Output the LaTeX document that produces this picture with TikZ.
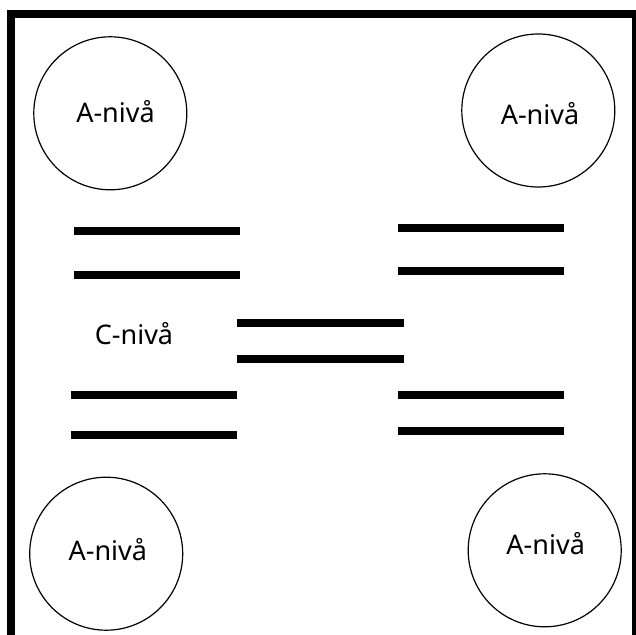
\documentclass[tikz,border=0pt]{standalone}
\usepackage{fontspec}
\setmainfont{Noto Sans}
\tikzset{
  frame/.style={line width=8pt, line join=miter},
  bar/.style={line width=8pt},
  circ/.style={circle, draw, line width=1.2pt, minimum size=153pt, inner sep=0pt},
  lbl/.style={anchor=base, inner sep=0pt, font=\fontsize{27}{32}\selectfont}
}
\begin{document}
\begin{tikzpicture}[x=1pt, y=-1pt]
\useasboundingbox (0,0) rectangle (636,634);
\clip (0,0) rectangle (636,634);
\fill[white] (0,0) rectangle (636,634);
\draw[frame] (11.3,660) -- (11.3,13.7) -- (636,13.7) -- (636,660);
% circles
\node[circ] (c1) at (110.3,113.3) {};
\node[circ] (c2) at (538.3,110.5) {};
\node[circ] (c3) at (106.2,553.7) {};
\node[circ] (c4) at (544.7,550.3) {};
\node[lbl] (t1) at (115.5,122.2) {A-nivå};
\node[lbl] (t2) at (540,124.7) {A-nivå};
\node[lbl] (t3) at (107.8,560.3) {A-nivå};
\node[lbl] (t4) at (545.7,554.3) {A-nivå};
\node[lbl] (t5) at (134,344.7) {C-nivå};
% bars
\draw[bar] (74,231) -- (240,231);
\draw[bar] (74,274.7) -- (240,274.7);
\draw[bar] (237,323) -- (404,323);
\draw[bar] (237,359) -- (404,359);
\draw[bar] (398,228) -- (564,228);
\draw[bar] (398,271) -- (564,271);
\draw[bar] (71,395) -- (237,395);
\draw[bar] (71,435) -- (237,435);
\draw[bar] (398,395) -- (564,395);
\draw[bar] (398,431) -- (564,431);
\end{tikzpicture}
\end{document}
